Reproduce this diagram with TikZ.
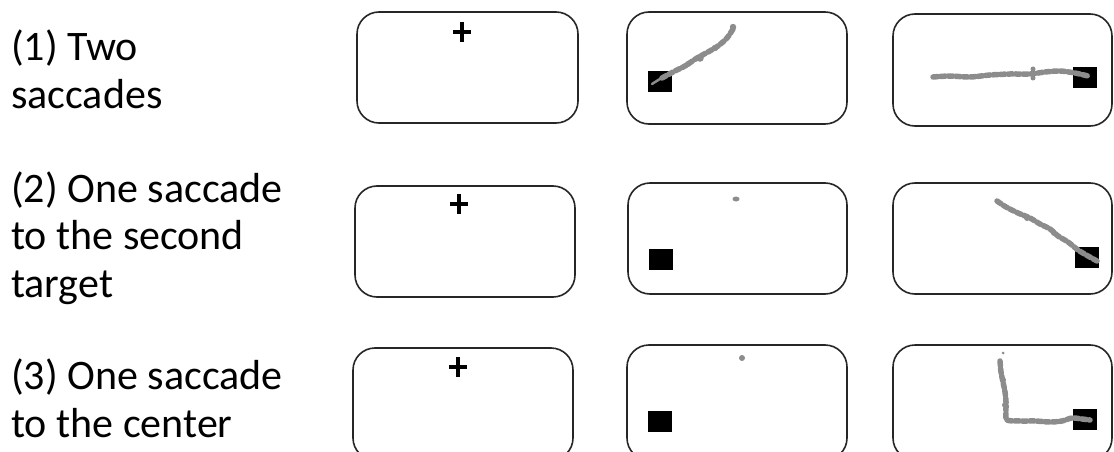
\documentclass[tikz,border=0pt]{standalone}
\usepackage{fontspec}
\setmainfont{Carlito}
\begin{document}
\begin{tikzpicture}[x=1pt,y=-1pt,
  panel/.style={draw=black!85,line width=1.6pt,rounded corners=22pt,inner sep=0pt},
  target/.style={fill=black,inner sep=0pt,minimum width=24pt,minimum height=21pt},
  trace/.style={draw=black!45,line width=5.5pt,line cap=round,line join=round,dash pattern=on 5pt off 2.5pt},
  thintrace/.style={draw=black!45,line width=2.5pt,line cap=round,line join=round},
  blob/.style={fill=black!45},
  label/.style={anchor=base west,align=left,inner sep=0pt,font=\fontsize{42}{47.5}\selectfont},
  fixcross/.style={line width=3.2pt,draw=black}]
\useasboundingbox (0,0) rectangle (1114,452);
\fill[white] (0,0) rectangle (1114,452);
\clip (0,0) rectangle (1114,452);
% labels (base = baseline of the last line)
\node[label] (l1) at (11,108) {(1) Two\\saccades};
\node[label] (l2) at (11,297) {(2) One saccade\\to the second\\target};
\node[label] (l3) at (11,437) {(3) One saccade\\to the center};
% panels row 1
\draw[panel] (357,12) rectangle (578,123);
\draw[panel] (627,12) rectangle (847,124);
\draw[panel] (893,14) rectangle (1112,126);
% row 2
\draw[panel] (355,186) rectangle (575,297);
\draw[panel] (628,183) rectangle (847,294);
\draw[panel] (893,183) rectangle (1112,294);
% row 3
\draw[panel] (353,348) rectangle (573,460);
\draw[panel] (627,345) rectangle (847,460);
\draw[panel] (893,345) rectangle (1112,460);
% fixation crosses
\foreach \x/\y in {462/32, 459/204, 458/367} {
  \draw[fixcross] (\x-9,\y) -- (\x+9,\y) (\x,\y-10) -- (\x,\y+10);
}
% targets
\node[target] (t12) at (659.5,81.5) {};
\node[target] (t13) at (1085,77.5) {};
\node[target] (t22) at (661,259.5) {};
\node[target] (t23) at (1086.5,257.5) {};
\node[target] (t32) at (659.5,421.5) {};
\node[target] (t33) at (1085,419.5) {};
% traces
\draw[thintrace] plot[smooth] coordinates {(652,84) (665,76) (685,66) (697,58) (708,52) (718,46) (727,38) (733,29)};
\draw[trace] plot[smooth] coordinates {(662,78) (675,71) (685,66) (697,58) (708,52) (718,46) (727,38) (733,29)};
\fill[blob] (733,27) circle (3.2pt);
\fill[blob] (700,58) circle (3.8pt);
\fill[blob] (715,48) circle (3.2pt);
\fill[blob] (688,64) circle (3pt);
\draw[trace] plot[smooth] coordinates {(933,77) (950,76) (970,77) (990,75) (1010,74) (1030,74) (1045,72) (1060,71) (1075,73) (1088,76)};
\fill[blob] (1033,69) circle (2.5pt);
\fill[blob] (1033,78) circle (2.5pt);
\fill[blob] (736,199) ellipse (3.5pt and 2.5pt);
\draw[trace] plot[smooth] coordinates {(997,201) (1006,207) (1018,213) (1030,218) (1040,224) (1050,229) (1058,236) (1068,242) (1078,250) (1088,256) (1097,261)};
\fill[blob] (1027,218) circle (3pt);
\fill[blob] (1054,233) circle (3pt);
\fill[blob] (742,358) circle (3pt);
\fill[blob] (1003,353) circle (1.5pt);
\draw[trace] plot[smooth] coordinates {(1000,361) (1001,372) (1003,382) (1005,392) (1006,402) (1006,412) (1007,420) (1020,421) (1035,421) (1050,422) (1062,421) (1072,418) (1082,419) (1090,420)};
\fill[blob] (1003,380) circle (3pt);
\fill[blob] (1005,405) circle (3pt);
\end{tikzpicture}
\end{document}
